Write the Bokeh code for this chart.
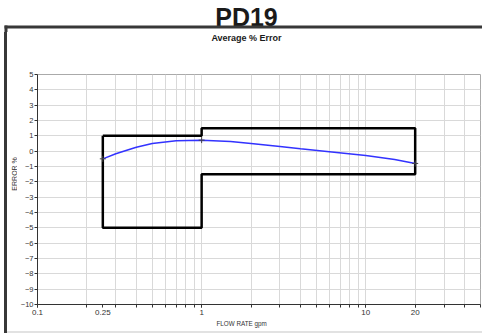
from math import pi
from bokeh.plotting import figure
from bokeh.models import FixedTicker, BasicTickFormatter, Div, Spacer, BoxAnnotation
from bokeh.layouts import column, row
from bokeh.core.properties import value
from bokeh.embed import file_html
from bokeh.resources import INLINE

# ---- data ----
flow = [0.25, 0.3, 0.35, 0.4, 0.5, 0.7, 1, 1.5, 2, 3, 4, 6, 10, 15, 20]
err = [-0.5, -0.17, 0.06, 0.26, 0.5, 0.68, 0.72, 0.63, 0.5, 0.3, 0.15, -0.04, -0.28, -0.55, -0.8]
test_flow = [0.25, 1, 20]
test_err = [-0.5, 0.72, -0.8]
env_x = [0.25, 1, 1, 20, 20, 1, 1, 0.25, 0.25]
env_y = [1, 1, 1.5, 1.5, -1.5, -1.5, -5, -5, 1]
y_ticks = list(range(-10, 6))
x_labeled = [0.1, 0.25, 1, 10, 20]
x_grid = [0.1, 0.2, 0.3, 0.4, 0.5, 0.6, 0.7, 0.8, 0.9,
          1, 2, 3, 4, 5, 6, 7, 8, 9,
          10, 20, 30, 40, 50]
chart_name = "PD19"
chart_title = "Average % Error"
x_title = "FLOW RATE  gpm"
y_title = "ERROR  %"

TXT = "#333333"
FONT = "Liberation Sans"
BAR = "#383838"


def text_fig(w, h):
    f = figure(width=w, height=h, x_range=(0, w), y_range=(0, h), output_backend="svg",
               toolbar_location=None, min_border=0, margin=0)
    f.axis.visible = False
    f.grid.visible = False
    f.outline_line_color = None
    f.background_fill_color = "white"
    f.border_fill_color = "white"
    return f


# ---- header with the big name and the frame's top-left corner ----
head = text_fig(482, 32)
head.text(x=[246], y=[15.5], text=[chart_name], text_align="center", text_baseline="middle",
          text_font=value(FONT), text_font_style="bold", text_font_size="25px",
          text_color="#1a1a1a")
head.add_layout(BoxAnnotation(left=4, right=482, bottom=4, top=7, fill_color=BAR,
                              fill_alpha=1, line_alpha=0))
head.add_layout(BoxAnnotation(left=4, right=7, bottom=0, top=7, fill_color=BAR,
                              fill_alpha=1, line_alpha=0))

# ---- chart subtitle ----
sub = text_fig(475, 16)
sub.text(x=[239], y=[11], text=[chart_title], text_align="center", text_baseline="middle",
         text_font=value(FONT), text_font_style="bold", text_font_size="9px",
         text_color="#1a1a1a")

# ---- y axis title ----
ylab = text_fig(10, 271)
ylab.text(x=[6.5], y=[155], text=[y_title], angle=pi / 2, text_align="center",
          text_baseline="middle", text_font=value(FONT), text_font_size="7px", text_color=TXT)

# ---- x axis title ----
xlab = text_fig(475, 12)
xlab.text(x=[235], y=[8], text=[x_title], text_align="center", text_baseline="middle",
          text_font=value(FONT), text_font_size="6.3px", text_color=TXT)

left_bar = Div(text="", width=3, height=301, margin=0, styles={"background-color": BAR})
bottom_line = Div(text="", width=475, height=2, margin=0, styles={"background-color": "#e2e2e2"})

# ---- main chart ----
p = figure(width=465, height=271, x_axis_type="log", x_range=(0.1, 50), y_range=(-10, 5),
           output_backend="svg", toolbar_location=None, margin=0,
           min_border_left=18, min_border_right=2, min_border_top=26, min_border_bottom=15)
p.background_fill_color = "white"
p.border_fill_color = "white"
p.outline_line_color = "#aaaaaa"

p.xaxis.ticker = FixedTicker(ticks=x_labeled, minor_ticks=x_grid)
p.xaxis.formatter = BasicTickFormatter()
p.yaxis.ticker = FixedTicker(ticks=y_ticks)
p.xgrid.ticker = FixedTicker(ticks=x_grid)
p.xgrid.grid_line_color = "#d9d9d9"
p.ygrid.grid_line_color = "#d9d9d9"
for ax in (p.xaxis, p.yaxis):
    ax.axis_line_color = TXT
    ax.major_tick_line_color = TXT
    ax.minor_tick_line_color = TXT
    ax.major_tick_out = 3
    ax.major_tick_in = 0
    ax.minor_tick_out = 3
    ax.minor_tick_in = 0
    ax.major_label_text_font = FONT
    ax.major_label_text_font_size = "8px"
    ax.major_label_text_color = TXT
    ax.major_label_standoff = 2
    ax.axis_label_standoff = 0
p.yaxis.minor_tick_line_color = None
p.yaxis.major_label_text_font_size = "7.5px"
p.yaxis.major_label_standoff = 1

# envelope
p.line(env_x, env_y, line_color="black", line_width=2.5)
# curve
p.line(flow, err, line_color="#3333ff", line_width=1.5)
p.scatter(test_flow, test_err, marker="cross", size=6, line_color="#444444", line_width=1)

inner = column(sub, row(ylab, p, margin=0, spacing=0), xlab, bottom_line, margin=0, spacing=0)
body = row(Spacer(width=4, height=301, margin=0), left_bar, inner, margin=0, spacing=0)
layout = column(head, body, margin=0, spacing=0)

open("out.html", "w").write(file_html(layout, INLINE))
